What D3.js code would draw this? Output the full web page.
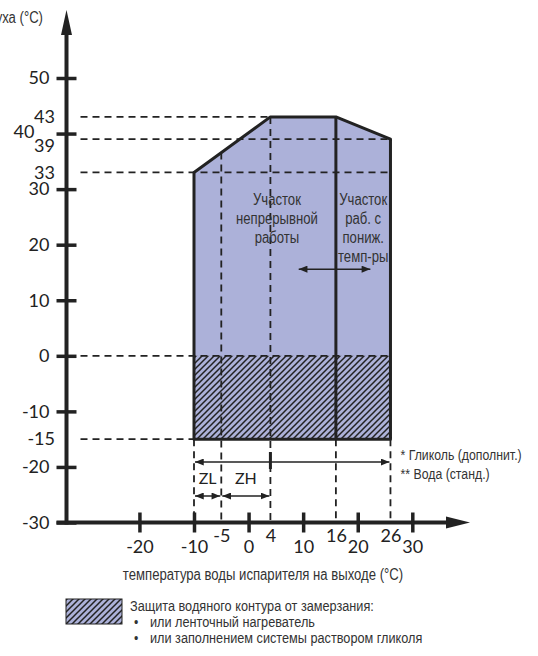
<!DOCTYPE html>
<html>
<head>
<meta charset="utf-8">
<style>
  body { margin: 0; background: white; }
  svg { display: block; }
  .tick-label { font-family: Lato, "Noto Sans", sans-serif; font-size: 18px; fill: #222; }
  .narrow { font-family: "Liberation Sans", Arial, sans-serif; fill: #333; }
</style>
</head>
<body>
<div id="chart"></div>
<script src="https://cdnjs.cloudflare.com/ajax/libs/d3/7.8.5/d3.min.js"></script>
<script>
// рабочая область: температура воды на выходе (x) / наружного воздуха (y)
const envX = [-10, -10, 4, 16, 26, 26];
const envY = [-15, 33, 43, 43, 39, -15];
const splitX = 16;
const freezeBand = [-15, 0];
const yTicks = [50, 40, 30, 20, 10, 0, -10, -20, -30];
const yMarks = [43, 39, 33, -15];
const xTicks = [-20, -10, 0, 10, 20, 30];
const xMarks = [-5, 4, 16, 26];
// горизонтальные пунктиры: [уровень, до x]
const hGuides = [[43, 4], [39, 26], [33, 26], [0, 26], [-15, -10]];
const vGuides = [-10, -5, 4, 16, 26];
const fullRange = [-10, 26];
const zlRange = [-10, -5];
const zhRange = [-5, 4];
const reducedArrow = [9, 22.5];
const reducedArrowAt = 15.6;
const textMain = ["Участок", "непрерывной", "работы"];
const textReduced = ["Участок", "раб. с", "пониж.", "темп-ры"];
const notes = ["* Гликоль (дополнит.)", "** Вода (станд.)"];
const legendLines = ["Защита водяного контура от замерзания:", "или ленточный нагреватель", "или заполнением системы раствором гликоля"];

const width = 538, height = 656;
const ink = "#222";
const fillColor = "#acb1d9";
const squeeze = 0.82;   // узкое начертание

const x = d3.scaleLinear().domain([-10, 30]).range([194, 412.3]);
const y = d3.scaleLinear().domain([-30, 50]).range([522.5, 78]);
const AX = 66.5;          // положение оси Y
const AY = y(-30);        // положение оси X

const svg = d3.select("#chart").append("svg")
  .attr("width", width).attr("height", height);

const defs = svg.append("defs");
const hatch = defs.append("pattern")
  .attr("id", "hatch").attr("patternUnits", "userSpaceOnUse")
  .attr("width", 6).attr("height", 6);
hatch.append("rect").attr("width", 6).attr("height", 6).attr("fill", fillColor);
hatch.append("path")
  .attr("d", "M-1,7 L7,-1 M-4,4 L4,-4 M2,10 L10,2")
  .attr("stroke", ink).attr("stroke-width", 1.5);

defs.append("marker")
  .attr("id", "arr").attr("viewBox", "0 0 10 8")
  .attr("refX", 10).attr("refY", 4)
  .attr("markerWidth", 9).attr("markerHeight", 7)
  .attr("markerUnits", "userSpaceOnUse")
  .attr("orient", "auto-start-reverse")
  .append("path").attr("d", "M0,0 L10,4 L0,8 Z").attr("fill", ink);

// верхняя граница области (для пунктира от наклонной линии)
function upper(v) {
  for (let i = 1; i < 4; i++) {
    if (v >= envX[i] && v <= envX[i + 1]) {
      const t = (v - envX[i]) / (envX[i + 1] - envX[i] || 1);
      return envY[i] + t * (envY[i + 1] - envY[i]);
    }
  }
  return envY[1];
}

// узкий текст: Liberation Sans, сжатый по горизонтали
function narrowText(str, px, py, size, anchor, color) {
  return svg.append("text").attr("class", "narrow")
    .attr("transform", `translate(${px},${py}) scale(${squeeze},1)`)
    .attr("text-anchor", anchor || "start")
    .style("font-size", size + "px")
    .attr("fill", color || "#333")
    .text(str);
}

const pts = envX.map((v, i) => [x(v), y(envY[i])]);
const line = d3.line();

// заливка
svg.append("path").attr("d", line(pts) + "Z").attr("fill", fillColor);
svg.append("rect")
  .attr("x", x(envX[0])).attr("y", y(freezeBand[1]))
  .attr("width", x(envX[5]) - x(envX[0]))
  .attr("height", y(freezeBand[0]) - y(freezeBand[1]))
  .attr("fill", "url(#hatch)");

// пунктиры
const guides = svg.append("g")
  .attr("stroke", ink).attr("stroke-width", 1.8).attr("stroke-dasharray", "7,5");
hGuides.forEach(([lv, xe]) => {
  guides.append("line")
    .attr("x1", AX + 14).attr("x2", x(xe))
    .attr("y1", y(lv)).attr("y2", y(lv));
});
vGuides.forEach(v => {
  const top = (v === -5 || v === 4) ? upper(v) : -15;
  guides.append("line")
    .attr("x1", x(v)).attr("x2", x(v))
    .attr("y1", y(top)).attr("y2", AY);
});

// контур и разделитель
svg.append("line")
  .attr("x1", x(splitX)).attr("x2", x(splitX))
  .attr("y1", y(43)).attr("y2", y(-15))
  .attr("stroke", ink).attr("stroke-width", 3);
svg.append("path").attr("d", line(pts) + "Z")
  .attr("fill", "none").attr("stroke", ink).attr("stroke-width", 3)
  .attr("stroke-linejoin", "round");

// оси
svg.append("line").attr("x1", AX).attr("x2", AX).attr("y1", 28).attr("y2", AY + 2)
  .attr("stroke", ink).attr("stroke-width", 4);
svg.append("path").attr("d", `M${AX},10 L${AX - 5.5},35 L${AX + 5.5},35 Z`).attr("fill", ink);
svg.append("line").attr("x1", AX - 10).attr("x2", 452).attr("y1", AY).attr("y2", AY)
  .attr("stroke", ink).attr("stroke-width", 4);
svg.append("path").attr("d", `M470,${AY} L446,${AY - 6} L446,${AY + 6} Z`).attr("fill", ink);

const fmt = d => String(d);

function styleAxis(g) {
  g.select(".domain").remove();
  g.selectAll(".tick line").attr("stroke", ink).attr("stroke-width", 3.5);
  g.selectAll(".tick text").attr("class", "tick-label").attr("fill", ink);
}

svg.append("g").attr("transform", `translate(${AX + 10},0)`)
  .call(d3.axisLeft(y).tickValues(yTicks).tickSize(20).tickPadding(7).tickFormat(fmt))
  .call(styleAxis)
  .call(g => g.selectAll(".tick").filter(d => d === 40).select("text").attr("dx", -15).attr("dy", "0.22em"));

svg.append("g").attr("transform", `translate(${AX},0)`)
  .call(d3.axisLeft(y).tickValues(yMarks).tickSize(0).tickPadding(11.5).tickFormat(fmt))
  .call(styleAxis)
  .call(g => g.selectAll(".tick").filter(d => d === 39).select("text").attr("dy", "0.68em"));

svg.append("g").attr("transform", `translate(0,${AY - 10})`)
  .call(d3.axisBottom(x).tickValues(xTicks).tickSize(20).tickPadding(8).tickFormat(fmt))
  .call(styleAxis);

svg.append("g").attr("transform", `translate(0,${AY})`)
  .call(d3.axisBottom(x).tickValues(xMarks).tickSize(0).tickPadding(7).tickFormat(fmt))
  .call(styleAxis);

// стрелки под областью
const arrows = svg.append("g").attr("stroke", ink).attr("stroke-width", 1.5);
function dblArrow(a, b, py) {
  arrows.append("line")
    .attr("x1", x(a) + 1).attr("x2", x(b) - 1).attr("y1", py).attr("y2", py)
    .attr("marker-start", "url(#arr)").attr("marker-end", "url(#arr)");
}
dblArrow(fullRange[0], fullRange[1], 462);
dblArrow(zlRange[0], zlRange[1], 496);
dblArrow(zhRange[0], zhRange[1], 496);
svg.append("line").attr("x1", x(zhRange[1])).attr("x2", x(zhRange[1]))
  .attr("y1", 452).attr("y2", 469).attr("stroke", ink).attr("stroke-width", 3);
dblArrow(reducedArrow[0], reducedArrow[1], y(reducedArrowAt));

svg.append("text").attr("class", "tick-label").attr("text-anchor", "middle")
  .attr("x", (x(zlRange[0]) + x(zlRange[1])) / 2).attr("y", 484)
  .style("font-size", "16px").text("ZL");
svg.append("text").attr("class", "tick-label").attr("text-anchor", "middle")
  .attr("x", (x(zhRange[0]) + x(zhRange[1])) / 2).attr("y", 484)
  .style("font-size", "16px").text("ZH");

// подписи областей
textMain.forEach((s, i) => narrowText(s, x(5.2), 204.5 + i * 19, 16, "middle", "#444"));
textReduced.forEach((s, i) => narrowText(s, x(21), 204.5 + i * 19, 16, "middle", "#444"));

notes.forEach((s, i) => narrowText(s, x(26) + 10, 460 + i * 19, 15));

// подписи осей
narrowText("Температура наружного воздуха (°C)", 43, 23, 16, "end");
narrowText("температура воды испарителя на выходе (°C)", 263, 580, 16, "middle");

// легенда
svg.append("rect").attr("x", 66).attr("y", 599).attr("width", 56).attr("height", 25)
  .attr("fill", "url(#hatch)").attr("stroke", ink).attr("stroke-width", 1);
narrowText(legendLines[0], 130, 611, 15.5);
legendLines.slice(1).forEach((s, i) => {
  narrowText("•", 134, 627 + i * 16, 15);
  narrowText(s, 150, 627 + i * 16, 15.5);
});
</script>
</body>
</html>
